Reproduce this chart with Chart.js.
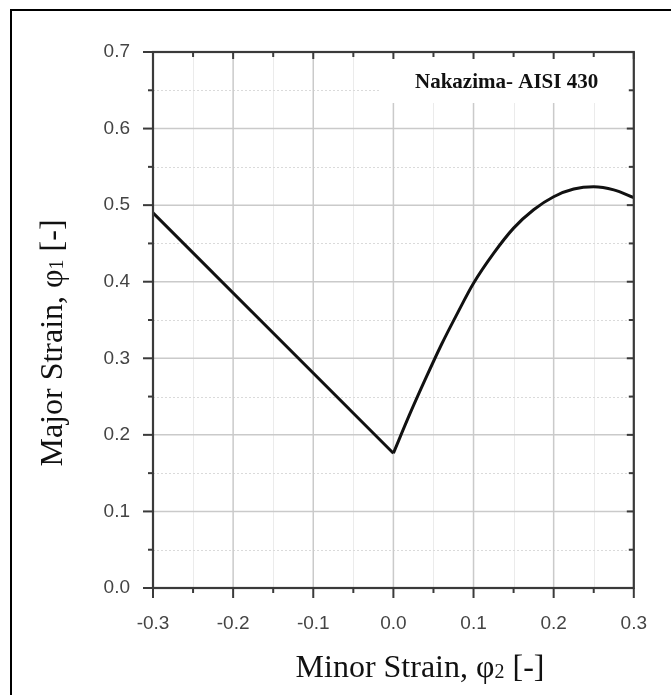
<!DOCTYPE html>
<html><head><meta charset="utf-8">
<script src="https://cdn.jsdelivr.net/npm/chart.js@4"></script>
<style>html,body{margin:0;padding:0;background:#fff}#wrap{width:671px;height:695px;position:relative}</style>
</head><body><div id="wrap"><canvas id="c" width="671" height="695"></canvas></div>
<script>
// ---- data ----
const leftStrainX = [-0.3, 0.0];
const leftStrainY = [0.49, 0.176];
const rightStrainX = [0.0, 0.02, 0.04, 0.06, 0.08, 0.10, 0.125, 0.15, 0.175, 0.20, 0.225, 0.25, 0.275, 0.30];
const rightStrainY = [0.176, 0.226, 0.273, 0.318, 0.359, 0.398, 0.437, 0.470, 0.494, 0.511, 0.521, 0.524, 0.520, 0.510];
const xRange = [-0.3, 0.3];
const yRange = [0.0, 0.7];
const majorStep = 0.1;
const minorStep = 0.05;
const xTitleParts = ['Minor Strain, φ', '2', ' [-]'];
const yTitleParts = ['Major Strain, φ', '1', ' [-]'];
const annotationText = 'Nakazima- AISI 430';

const toPts = (xs, ys) => xs.map((x, i) => ({x: x, y: ys[i]}));

const decor = {
  id: 'decor',
  beforeDatasetsDraw(chart) {
    const {ctx, chartArea: a, scales: {x, y}} = chart;
    ctx.save();
    const nx = Math.round((xRange[1] - xRange[0]) / minorStep);
    const ny = Math.round((yRange[1] - yRange[0]) / minorStep);
    // minor grid
    for (let i = 1; i < nx; i++) {
      if (i % 2 === 0) continue;
      const px = Math.round(x.getPixelForValue(xRange[0] + i * minorStep)) + 0.5;
      ctx.strokeStyle = '#ebebeb'; ctx.lineWidth = 1; ctx.setLineDash([]);
      ctx.beginPath(); ctx.moveTo(px, a.top); ctx.lineTo(px, a.bottom); ctx.stroke();
    }
    for (let i = 1; i < ny; i++) {
      if (i % 2 === 0) continue;
      const py = Math.round(y.getPixelForValue(yRange[0] + i * minorStep)) + 0.5;
      ctx.strokeStyle = '#dadada'; ctx.lineWidth = 1; ctx.setLineDash([2, 2]);
      ctx.beginPath(); ctx.moveTo(a.left, py); ctx.lineTo(a.right, py); ctx.stroke();
    }
    ctx.setLineDash([]);
    // major grid
    ctx.strokeStyle = '#cacaca'; ctx.lineWidth = 1.5;
    x.ticks.forEach(t => {
      const px = x.getPixelForValue(t.value);
      ctx.beginPath(); ctx.moveTo(px, a.top); ctx.lineTo(px, a.bottom); ctx.stroke();
    });
    y.ticks.forEach(t => {
      const py = y.getPixelForValue(t.value);
      ctx.beginPath(); ctx.moveTo(a.left, py); ctx.lineTo(a.right, py); ctx.stroke();
    });
    // white box behind the annotation
    ctx.fillStyle = '#ffffff';
    ctx.fillRect(a.left + 228, a.top + 2, a.right - a.left - 230, 49);
    ctx.restore();
  },
  afterDatasetsDraw(chart) {
    const {ctx, chartArea: a, scales: {x, y}} = chart;
    ctx.save();
    // annotation
    ctx.fillStyle = '#111';
    ctx.font = 'bold 21px "Liberation Serif"';
    ctx.textAlign = 'left'; ctx.textBaseline = 'alphabetic';
    ctx.fillText(annotationText, 415, 88);
    // axis frame
    ctx.strokeStyle = '#3a3a3a'; ctx.lineWidth = 2.2;
    ctx.strokeRect(a.left, a.top, a.right - a.left, a.bottom - a.top);
    // tick marks
    ctx.lineWidth = 2;
    const nx = Math.round((xRange[1] - xRange[0]) / minorStep);
    const ny = Math.round((yRange[1] - yRange[0]) / minorStep);
    for (let i = 0; i <= nx; i++) {
      const px = x.getPixelForValue(xRange[0] + i * minorStep);
      const major = i % 2 === 0;
      ctx.beginPath(); ctx.moveTo(px, a.bottom); ctx.lineTo(px, a.bottom + (major ? 10 : 5)); ctx.stroke();
      ctx.beginPath(); ctx.moveTo(px, a.top); ctx.lineTo(px, a.top + (major ? 7 : 5)); ctx.stroke();
    }
    for (let i = 0; i <= ny; i++) {
      const py = y.getPixelForValue(yRange[0] + i * minorStep);
      const major = i % 2 === 0;
      ctx.beginPath(); ctx.moveTo(a.left, py); ctx.lineTo(a.left - (major ? 10 : 5), py); ctx.stroke();
      ctx.beginPath(); ctx.moveTo(a.right, py); ctx.lineTo(a.right - (major ? 7 : 5), py); ctx.stroke();
    }
    ctx.restore();
  },
  afterDraw(chart) {
    const {ctx} = chart;
    ctx.save();
    ctx.fillStyle = '#111';
    ctx.textBaseline = 'alphabetic'; ctx.textAlign = 'left';
    const big = '32px "Liberation Serif"', small = '20px "Liberation Serif"';
    function drawTitle(parts, cx, base) {
      ctx.font = big; const w0 = ctx.measureText(parts[0]).width;
      ctx.font = small; const w1 = ctx.measureText(parts[1]).width;
      ctx.font = big; const w2 = ctx.measureText(parts[2]).width;
      let sx = cx - (w0 + w1 + w2) / 2;
      ctx.font = big; ctx.fillText(parts[0], sx, base);
      ctx.font = small; ctx.fillText(parts[1], sx + w0, base + 1);
      ctx.font = big; ctx.fillText(parts[2], sx + w0 + w1, base);
    }
    drawTitle(xTitleParts, 420, 677);
    ctx.translate(62, 343); ctx.rotate(-Math.PI / 2);
    drawTitle(yTitleParts, 0, 0);
    ctx.restore();
    // outer frame (top and left edges)
    ctx.save();
    ctx.strokeStyle = '#000'; ctx.lineWidth = 2;
    ctx.beginPath(); ctx.moveTo(11, 700); ctx.lineTo(11, 10); ctx.lineTo(680, 10); ctx.stroke();
    ctx.restore();
  }
};

const tickFont = {family: '"Liberation Sans", Arial, sans-serif', size: 19};
new Chart(document.getElementById('c'), {
  type: 'scatter',
  data: {
    datasets: [
      {data: toPts(leftStrainX, leftStrainY), showLine: true, borderColor: '#111', borderWidth: 3, pointRadius: 0, tension: 0},
      {data: toPts(rightStrainX, rightStrainY), showLine: true, borderColor: '#111', borderWidth: 3, pointRadius: 0, cubicInterpolationMode: 'monotone'}
    ]
  },
  options: {
    responsive: false, animation: false, devicePixelRatio: 1,
    layout: {padding: {left: 0, top: 52, right: 26, bottom: 0}},
    plugins: {legend: {display: false}, tooltip: {enabled: false}},
    scales: {
      x: {
        type: 'linear', min: xRange[0], max: xRange[1],
        grid: {display: false, drawTicks: false},
        border: {display: false},
        ticks: {stepSize: majorStep, autoSkip: false, maxRotation: 0, padding: 24, color: '#444', font: tickFont,
                callback: v => Number(v).toFixed(1)},
        afterFit: s => { s.height = 107; }
      },
      y: {
        type: 'linear', min: yRange[0], max: yRange[1],
        grid: {display: false, drawTicks: false},
        border: {display: false},
        ticks: {stepSize: majorStep, autoSkip: false, padding: 23, color: '#444', font: tickFont,
                callback: v => Number(v).toFixed(1)},
        afterFit: s => { s.width = 153; }
      }
    }
  },
  plugins: [decor]
});
</script></body></html>
